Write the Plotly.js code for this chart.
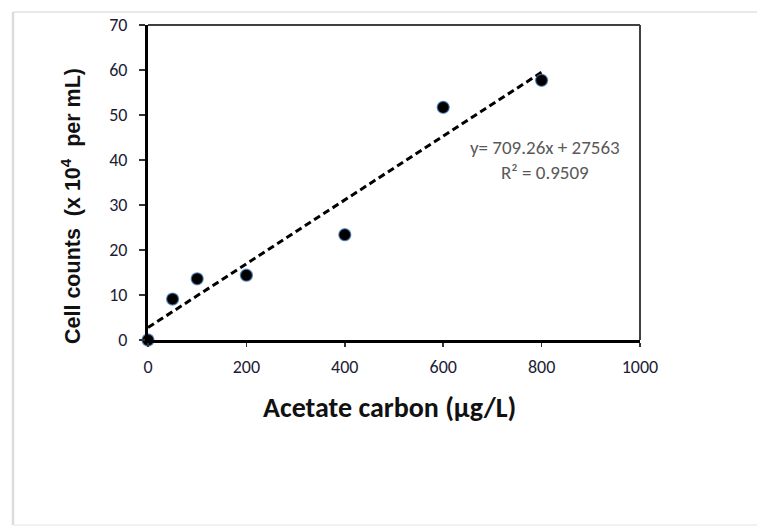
<!DOCTYPE html>
<html>
<head>
<meta charset="utf-8">
<script src="https://cdn.plot.ly/plotly-3.0.1.min.js"></script>
<style>
  html, body { margin: 0; padding: 0; background: #ffffff; }
  #chart { width: 757px; height: 529px; }
</style>
</head>
<body>
<div id="chart"></div>
<script>
// ---- data ----
const acetateCarbon = [0, 50, 100, 200, 400, 600, 800];          // µg/L
const cellCounts    = [0, 9.1, 13.6, 14.4, 23.4, 51.7, 57.7];     // x10^4 per mL
const trendSlope     = 709.26;   // from printed equation (cells/mL per µg/L)
const trendIntercept = 27563;    // cells/mL
const rSquared       = 0.9509;
const xTickVals = [0, 200, 400, 600, 800, 1000];
const yTickVals = [0, 10, 20, 30, 40, 50, 60, 70];

// trend line in chart units (x10^4 per mL), spanning the data range
const trendX = [Math.min(...acetateCarbon), Math.max(...acetateCarbon)];
const trendY = trendX.map(x => (trendSlope * x + trendIntercept) / 1e4);

const calibri = 'Carlito, Calibri, "Liberation Sans", Arial, sans-serif';
const tickFont = { family: calibri, size: 18, color: '#1c1c36' };

const traces = [
  {
    x: trendX, y: trendY, type: 'scatter', mode: 'lines',
    line: { color: '#000000', width: 3, dash: '7px,4px' },
    hoverinfo: 'skip', showlegend: false, cliponaxis: false
  },
  {
    x: acetateCarbon, y: cellCounts, type: 'scatter', mode: 'markers',
    marker: { size: 12, color: '#000000', line: { color: 'rgba(70,120,180,0.75)', width: 1.3 } },
    showlegend: false, cliponaxis: false
  }
];

const layout = {
  width: 757, height: 529,
  margin: { l: 148, r: 117, t: 25, b: 189 },
  paper_bgcolor: '#ffffff', plot_bgcolor: '#ffffff',
  showlegend: false,
  xaxis: {
    range: [0, 1000], tickvals: xTickVals, ticktext: xTickVals.map(String),
    showgrid: false, zeroline: false,
    showline: true, linecolor: '#000000', linewidth: 3,
    ticks: 'outside', ticklen: 4, tickwidth: 1.5, tickcolor: '#333333',
    tickfont: tickFont, ticklabelstandoff: 4
  },
  yaxis: {
    range: [0, 70], tickvals: yTickVals, ticktext: yTickVals.map(String),
    showgrid: false, zeroline: false,
    showline: true, linecolor: '#000000', linewidth: 3,
    ticks: 'outside', ticklen: 6, tickwidth: 1.5, tickcolor: '#333333',
    tickfont: tickFont, ticklabelstandoff: 8
  },
  shapes: [
    // plot frame top and right
    { type: 'line', xref: 'paper', yref: 'paper', x0: 0, x1: 1, y0: 1, y1: 1, line: { color: '#404040', width: 2 } },
    { type: 'line', xref: 'paper', yref: 'paper', x0: 1, x1: 1, y0: 0, y1: 1, line: { color: '#404040', width: 2 } },
    // outer light frame
    { type: 'line', xref: 'paper', yref: 'paper', x0: -0.2744, x1: 1.24, y0: 1.0413, y1: 1.0413, line: { color: '#e2e2e2', width: 1.5 } },
    { type: 'line', xref: 'paper', yref: 'paper', x0: -0.2744, x1: -0.2744, y0: -0.587, y1: 1.0413, line: { color: '#dcdcdc', width: 2.5 } },
    { type: 'line', xref: 'paper', yref: 'paper', x0: -0.2744, x1: 1.24, y0: -0.587, y1: -0.587, line: { color: '#ececec', width: 1.5 } }
  ],
  annotations: [
    {
      xref: 'paper', yref: 'paper', x: 0.49, y: -0.2127, xanchor: 'center', yanchor: 'middle',
      text: 'Acetate carbon (µg/L)', showarrow: false,
      font: { family: calibri, size: 28, color: '#111111', weight: 'bold' }
    },
    {
      xref: 'paper', yref: 'paper', x: -0.1565, y: 0.4254, xanchor: 'center', yanchor: 'middle',
      textangle: -90,
      text: 'Cell counts\u00a0\u00a0(x 10<sup>4</sup>\u00a0\u00a0per mL)', showarrow: false,
      font: { family: '"Liberation Sans", Arial, sans-serif', size: 21.5, color: '#111111', weight: 'bold' }
    },
    {
      xref: 'x', yref: 'y', x: 807, y: 40, xanchor: 'center', yanchor: 'middle',
      text: 'y= ' + trendSlope.toFixed(2) + 'x + ' + trendIntercept + '<br>R² = ' + rSquared.toFixed(4),
      showarrow: false, align: 'center',
      font: { family: calibri, size: 19, color: '#595959' }
    }
  ]
};

Plotly.newPlot('chart', traces, layout, { displayModeBar: false, staticPlot: true });
</script>
</body>
</html>
